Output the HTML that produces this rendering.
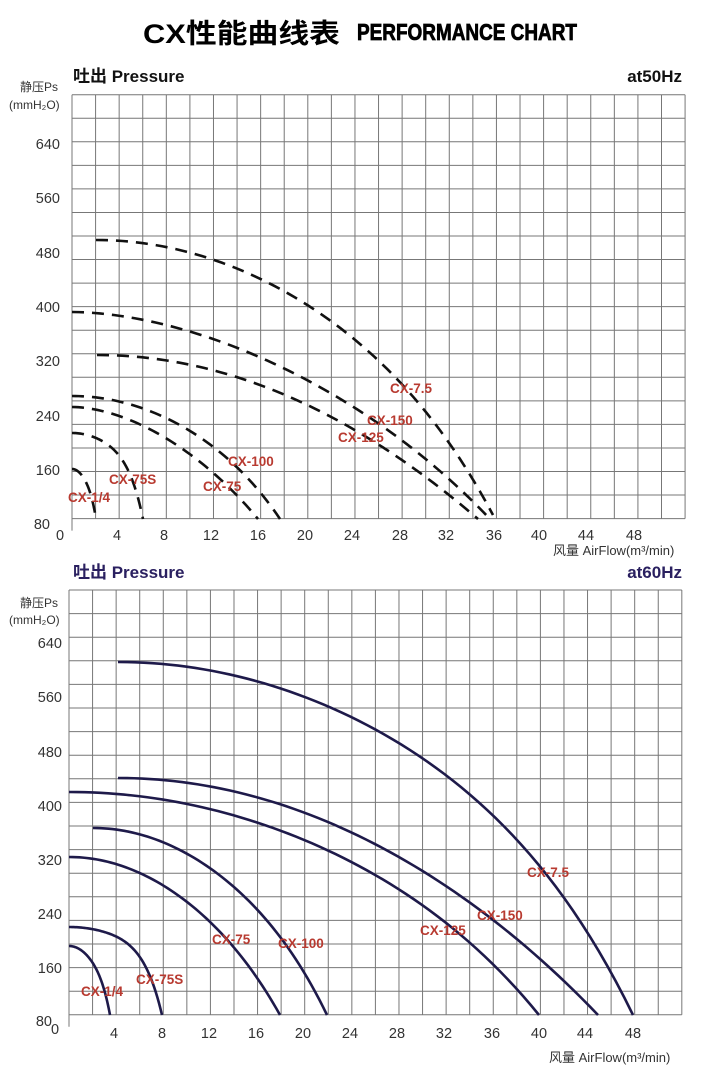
<!DOCTYPE html>
<html><head><meta charset="utf-8"><style>
html,body{margin:0;padding:0;background:#fff;}
svg{display:block;}
text{font-family:"Liberation Sans","Noto Sans CJK SC",sans-serif;}
</style></head><body>
<svg id="s" width="720" height="1070" viewBox="0 0 720 1070" xmlns="http://www.w3.org/2000/svg">
<text x="143" y="43" font-size="27" font-weight="bold" textLength="197" lengthAdjust="spacingAndGlyphs">CX性能曲线表</text>
<text x="357" y="40" font-size="23" font-weight="bold" textLength="220" lengthAdjust="spacingAndGlyphs" stroke="#000" stroke-width="0.8">PERFORMANCE CHART</text>

<text x="73" y="82" font-size="17" font-weight="bold" fill="#111">吐出 Pressure</text>
<text x="682" y="82" font-size="17" font-weight="bold" text-anchor="end" fill="#111">at50Hz</text>
<text x="73" y="578" font-size="17" font-weight="bold" fill="#2a2060">吐出 Pressure</text>
<text x="682" y="578" font-size="17" font-weight="bold" text-anchor="end" fill="#2a2060">at60Hz</text>

<g id="g1" stroke="#777" stroke-width="1"></g>
<g id="g2" stroke="#777" stroke-width="1"></g>
<g id="c1" fill="none" stroke="#111" stroke-width="2.6" stroke-dasharray="12 8"></g>
<g id="c2" fill="none" stroke="#1e1a4a" stroke-width="2.6"></g>

<g font-size="14.5" fill="#333">
<text x="20" y="91" font-size="12">静压Ps</text>
<text x="9" y="109" font-size="12">(mmH₂O)</text>
<g text-anchor="end">
<text x="60" y="149">640</text><text x="60" y="203">560</text><text x="60" y="258">480</text>
<text x="60" y="312">400</text><text x="60" y="366">320</text><text x="60" y="421">240</text>
<text x="60" y="475">160</text><text x="50" y="529">80</text>
</g>
<g text-anchor="middle">
<text x="60" y="540">0</text><text x="117" y="540">4</text><text x="164" y="540">8</text><text x="211" y="540">12</text>
<text x="258" y="540">16</text><text x="305" y="540">20</text><text x="352" y="540">24</text><text x="400" y="540">28</text>
<text x="446" y="540">32</text><text x="494" y="540">36</text><text x="539" y="540">40</text><text x="586" y="540">44</text><text x="634" y="540">48</text>
</g>
<text x="553" y="555" font-size="13">风量 AirFlow(m³/min)</text>

<text x="20" y="607" font-size="12">静压Ps</text>
<text x="9" y="624" font-size="12">(mmH₂O)</text>
<g text-anchor="end">
<text x="62" y="648">640</text><text x="62" y="702">560</text><text x="62" y="757">480</text>
<text x="62" y="811">400</text><text x="62" y="865">320</text><text x="62" y="919">240</text>
<text x="62" y="973">160</text><text x="52" y="1026">80</text>
</g>
<g text-anchor="middle">
<text x="55" y="1034">0</text><text x="114" y="1038">4</text><text x="162" y="1038">8</text><text x="209" y="1038">12</text>
<text x="256" y="1038">16</text><text x="303" y="1038">20</text><text x="350" y="1038">24</text><text x="397" y="1038">28</text>
<text x="444" y="1038">32</text><text x="492" y="1038">36</text><text x="539" y="1038">40</text><text x="585" y="1038">44</text><text x="633" y="1038">48</text>
</g>
<text x="549" y="1062" font-size="13">风量 AirFlow(m³/min)</text>
</g>

<g font-size="13.5" font-weight="bold" fill="#b83a30">
<text x="390" y="393">CX-7.5</text><text x="367" y="425">CX-150</text><text x="338" y="442">CX-125</text>
<text x="228" y="466">CX-100</text><text x="203" y="491">CX-75</text><text x="109" y="484">CX-75S</text><text x="68" y="502">CX-1/4</text>
<text x="527" y="877">CX-7.5</text><text x="477" y="920">CX-150</text><text x="420" y="935">CX-125</text>
<text x="278" y="948">CX-100</text><text x="212" y="944">CX-75</text><text x="136" y="984">CX-75S</text><text x="81" y="996">CX-1/4</text>
</g>
</svg>
<script>
var NS="http://www.w3.org/2000/svg";
function grid(id,x0,y0,dx,dy,nc,nr){var g=document.getElementById(id);
for(var i=0;i<=nc;i++){var l=document.createElementNS(NS,"line");var x=x0+i*dx;l.setAttribute("x1",x);l.setAttribute("x2",x);l.setAttribute("y1",y0);l.setAttribute("y2",y0+nr*dy+(i==0?12:0));g.appendChild(l);}
for(var j=0;j<=nr;j++){var l=document.createElementNS(NS,"line");var y=y0+j*dy;l.setAttribute("x1",x0);l.setAttribute("x2",x0+nc*dx);l.setAttribute("y1",y);l.setAttribute("y2",y);g.appendChild(l);}}
grid("g1",72,94.7,23.58,23.55,26,18);
grid("g2",69,590,23.57,23.6,26,18);
function curve(x0,y0,xe,ye,c,p){var d="";for(var i=0;i<=60;i++){var t=i/60;var f=c*Math.pow(t,p)+(1-c)*Math.pow(t,6);
var x=x0+(xe-x0)*t,y=y0+(ye-y0)*f;d+=(i?" L":"M")+x.toFixed(2)+","+y.toFixed(2);}return d;}
function add(id,list){var g=document.getElementById(id);list.forEach(function(a){var e=document.createElementNS(NS,"path");e.setAttribute("d",curve.apply(null,a));g.appendChild(e);});}
add("c1",[
[96,240,493,515,0.82,2],
[72,312,490,519,0.92,1.8],
[97,355,478,519,1,2],
[72,396,280,519,0.87,2],
[72,407,258,519,0.95,1.8],
[72,433,143,519,0.5,2],
[72,469,96,519,0.75,2]
]);
add("c2",[
[118,662,633,1015,0.75,2],
[118,778,598,1015,0.97,2],
[69,792,539,1015,0.85,2],
[93,828,327,1015,0.85,2],
[69,857,280,1015,0.9,2],
[69,927,162,1015,0.38,2],
[69,946,110,1015,0.7,2]
]);
</script>
</body></html>
